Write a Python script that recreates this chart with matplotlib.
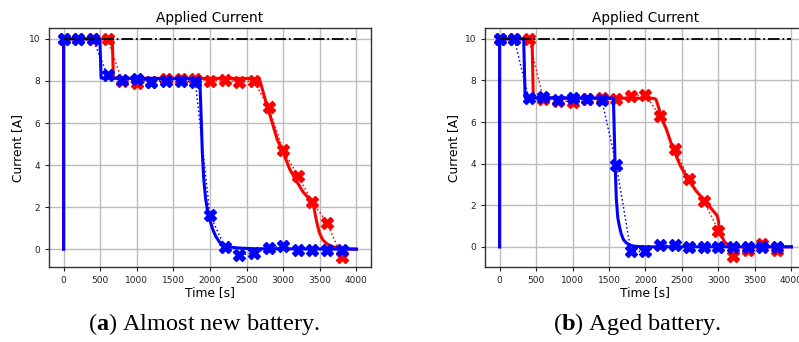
import numpy as np
import matplotlib
matplotlib.use('Agg')
from matplotlib import pyplot as plt

plt.rcParams['mathtext.fontset'] = 'custom'
plt.rcParams['mathtext.bf'] = 'Liberation Serif:bold'
plt.rcParams['mathtext.rm'] = 'Liberation Serif'

# measurement times (markers)
t_meas = [0, 200, 400, 600, 800, 1000, 1200, 1400, 1600, 1800,
          2000, 2200, 2400, 2600, 2800, 3000, 3200, 3400, 3600, 3800]

# (a) almost new battery
a_red_meas = [10, 10, 10, 10, 8.0, 7.91, 7.93, 8.08, 8.08, 8.1,
              8.02, 8.04, 7.95, 8.0, 6.74, 4.71, 3.49, 2.24, 1.26, -0.38]
a_blue_meas = [10, 10, 10, 8.27, 8.03, 8.07, 7.97, 7.99, 8.0, 7.96,
               1.63, 0.12, -0.27, -0.19, 0.07, 0.13, -0.02, -0.02, -0.02, -0.02]
a_red_t = [0, 0, 665, 680, 2670, 2700, 2760, 2800, 2860, 2920, 3000, 3090, 3180,
           3270, 3340, 3406, 3430, 3452, 3475, 3497, 3540, 3588, 3650, 3725, 3800, 4000]
a_red_I = [0, 10, 10, 8.13, 8.12, 7.8, 7.05, 6.6, 5.9, 5.2, 4.6, 3.8, 3.25,
           2.73, 2.45, 2.2, 1.8, 1.39, 1.05, 0.76, 0.45, 0.28, 0.15, 0.07, 0.02, 0.0]
a_blue_t = [0, 0, 495, 512, 1860, 1872, 1881, 1895, 1913, 1940, 1972, 2000, 2040,
            2080, 2131, 2200, 2268, 2400, 2600, 4000]
a_blue_I = [0, 10, 10, 8.14, 8.1, 7.0, 6.1, 4.6, 3.4, 2.4, 1.71, 1.35, 0.92,
            0.6, 0.33, 0.17, 0.1, 0.05, 0.02, 0.0]

# (b) aged battery
b_red_meas = [10, 10, 10, 7.1, 7.03, 6.98, 7.12, 7.17, 7.09, 7.25,
              7.3, 6.27, 4.7, 3.24, 2.22, 0.77, -0.46, -0.13, 0.13, -0.14]
b_blue_meas = [10, 10, 7.14, 7.22, 7.08, 7.17, 7.1, 7.08, 3.94, -0.22,
               -0.22, 0.07, 0.08, 0.0, 0.0, 0.0, 0.0, 0.0, 0.0, -0.03]
b_red_t = [0, 0, 445, 462, 2110, 2144, 2180, 2221, 2290, 2358, 2472, 2586, 2700,
           2837, 2982, 3000, 3010, 3042, 3088, 3156, 3250, 4000]
b_red_I = [0, 10, 10, 7.15, 7.14, 7.09, 6.7, 6.18, 5.62, 4.9, 3.94, 3.22, 2.66,
           2.11, 1.5, 1.25, 0.83, 0.51, 0.22, 0.03, 0.0, 0.0]
b_blue_t = [0, 0, 330, 350, 1560, 1570, 1583, 1600, 1620, 1642, 1665, 1697, 1740,
            1788, 1850, 1975, 4000]
b_blue_I = [0, 10, 10, 7.17, 7.15, 5.8, 4.02, 2.3, 1.4, 0.99, 0.65, 0.35, 0.18,
            0.08, 0.03, 0.0, 0.0]

ref_t = [0, 4000]
ref_I = [10, 10]

W, H = 799, 342
fig = plt.figure(figsize=(W / 100, H / 100), dpi=100)


def draw(ax, red_t, red_I, red_meas, blue_t, blue_I, blue_meas, ylim):
    ax.plot(red_t, red_I, color='red', lw=2.2)
    ax.plot(t_meas, red_meas, color='red', lw=1.1, ls=':', marker='X', ms=8)
    ax.plot(blue_t, blue_I, color='blue', lw=2.2)
    ax.plot(t_meas, blue_meas, color='blue', lw=1.1, ls=':', marker='X', ms=8)
    ax.plot(ref_t, ref_I, color='black', lw=1.3, ls='-.')
    ax.set_xlim(-200, 4200)
    ax.set_ylim(*ylim)
    ax.set_xticks(np.arange(0, 4001, 500))
    ax.set_yticks([0, 2, 4, 6, 8, 10])
    ax.grid(True, color='#bcbcbc', lw=1.0)
    ax.set_axisbelow(True)
    ax.tick_params(labelsize=6.5, length=3, width=0.8, colors='#222222')
    for s in ax.spines.values():
        s.set_color('#333333')
        s.set_linewidth(1.0)
    ax.set_title('Applied Current', fontsize=9.8, pad=4)
    ax.set_xlabel('Time [s]', fontsize=8.8, labelpad=1)
    ax.set_ylabel('Current [A]', fontsize=8.8, labelpad=3)


bot = (H - 267) / H
hgt = 239 / H
ax1 = fig.add_axes([49 / W, bot, 322 / W, hgt])
draw(ax1, a_red_t, a_red_I, a_red_meas, a_blue_t, a_blue_I, a_blue_meas, (-0.85, 10.52))
ax2 = fig.add_axes([485 / W, bot, 321 / W, hgt])
draw(ax2, b_red_t, b_red_I, b_red_meas, b_blue_t, b_blue_I, b_blue_meas, (-0.97, 10.52))

fig.text(204 / W, 12 / H, r'($\mathbf{a}$) Almost new battery.', family='Liberation Serif',
         fontsize=17.5, ha='center', va='baseline')
fig.text(637 / W, 12 / H, r'($\mathbf{b}$) Aged battery.', family='Liberation Serif',
         fontsize=17.5, ha='center', va='baseline')

fig.savefig('out.png', dpi=100)
